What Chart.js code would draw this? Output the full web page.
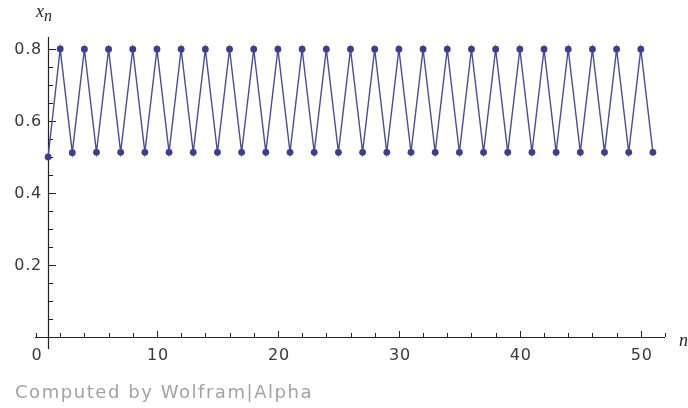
<!DOCTYPE html>
<html>
<head>
<meta charset="utf-8">
<script src="https://cdn.jsdelivr.net/npm/chart.js@4.4.1/dist/chart.umd.min.js"></script>
<style>
  html, body { margin: 0; padding: 0; background: #ffffff; }
  #wrap { position: relative; width: 688px; height: 408px; }
  #credit { position: absolute; left: 15px; top: 381px; font-family: "DejaVu Sans", sans-serif; font-size: 18px; letter-spacing: 1.55px; color: #a3a3a3; white-space: nowrap; }
</style>
</head>
<body>
<div id="wrap">
  <canvas id="c" width="688" height="408"></canvas>
  <div id="credit">Computed by Wolfram|Alpha</div>
</div>
<script>
// ---- data ----
const nValues = [1,2,3,4,5,6,7,8,9,10,11,12,13,14,15,16,17,18,19,20,21,22,23,24,25,26,27,28,29,30,31,32,33,34,35,36,37,38,39,40,41,42,43,44,45,46,47,48,49,50,51];
const xValues = [0.5,0.8,0.512,0.7995,0.5129,0.7995,0.5130,0.7995,0.5130,0.7995,0.5130,0.7995,0.5130,0.7995,0.5130,0.7995,0.5130,0.7995,0.5130,0.7995,0.5130,0.7995,0.5130,0.7995,0.5130,0.7995,0.5130,0.7995,0.5130,0.7995,0.5130,0.7995,0.5130,0.7995,0.5130,0.7995,0.5130,0.7995,0.5130,0.7995,0.5130,0.7995,0.5130,0.7995,0.5130,0.7995,0.5130,0.7995,0.5130,0.7995,0.5130];
const xTickLabels = [0, 10, 20, 30, 40, 50];
const xMinorTicks = [2,4,6,8,12,14,16,18,22,24,26,28,32,34,36,38,42,44,46,48,52];
const yTickLabels = [0.2, 0.4, 0.6, 0.8];
const yMinorTicks = [0.05,0.1,0.15,0.25,0.3,0.35,0.45,0.5,0.55,0.65,0.7,0.75];
const axisCrossN = 1;

const points = nValues.map((n, i) => ({ x: n, y: xValues[i] }));

const axesPlugin = {
  id: 'wolframAxes',
  beforeDatasetsDraw(chart) {
    const ctx = chart.ctx;
    const xs = chart.scales.x, ys = chart.scales.y;
    const x0 = xs.getPixelForValue(axisCrossN);
    const y0 = ys.getPixelForValue(0);
    const xLeft = xs.getPixelForValue(0);
    const xRight = xs.getPixelForValue(52);
    const yTop = ys.getPixelForValue(ys.max);
    ctx.save();
    ctx.strokeStyle = '#222';
    ctx.lineWidth = 1.2;
    ctx.beginPath();
    ctx.moveTo(xLeft - 1, Math.round(y0) + 0.5);
    ctx.lineTo(xRight, Math.round(y0) + 0.5);
    ctx.moveTo(Math.round(x0) + 0.5, yTop);
    ctx.lineTo(Math.round(x0) + 0.5, y0 + 12);
    ctx.stroke();
    ctx.lineWidth = 1;
    ctx.beginPath();
    xTickLabels.forEach(v => {
      const px = Math.round(xs.getPixelForValue(v)) + 0.5;
      const len = v === 0 ? 4 : 6;
      ctx.moveTo(px, y0); ctx.lineTo(px, y0 - len);
    });
    xMinorTicks.forEach(v => {
      const px = Math.round(xs.getPixelForValue(v)) + 0.5;
      ctx.moveTo(px, y0); ctx.lineTo(px, y0 - 4);
    });
    yTickLabels.forEach(v => {
      const py = Math.round(ys.getPixelForValue(v)) + 0.5;
      ctx.moveTo(x0, py); ctx.lineTo(x0 + 8, py);
    });
    yMinorTicks.forEach(v => {
      const py = Math.round(ys.getPixelForValue(v)) + 0.5;
      ctx.moveTo(x0, py); ctx.lineTo(x0 + 5, py);
    });
    ctx.stroke();
    ctx.fillStyle = '#3a3a3a';
    ctx.font = '16px "DejaVu Sans", sans-serif';
    try { ctx.letterSpacing = '0.8px'; } catch (e) {}
    ctx.textBaseline = 'middle';
    ctx.textAlign = 'center';
    xTickLabels.forEach(v => {
      const px = xs.getPixelForValue(v);
      ctx.fillText(String(v), px + 1, y0 + 19);
    });
    ctx.textAlign = 'right';
    yTickLabels.forEach(v => {
      const py = ys.getPixelForValue(v);
      ctx.fillText(v.toFixed(1), x0 - 6, py + 1);
    });
    try { ctx.letterSpacing = '0px'; } catch (e) {}
    ctx.textBaseline = 'alphabetic';
    ctx.textAlign = 'left';
    ctx.fillStyle = '#2a2a2a';
    ctx.font = 'italic 18px "Liberation Serif", serif';
    ctx.fillText('x', 36, 17);
    ctx.font = 'italic 16px "Liberation Serif", serif';
    ctx.fillText('n', 44, 21);
    ctx.font = 'italic 18px "Liberation Serif", serif';
    ctx.fillText('n', 679, 346);
    ctx.restore();
  }
};

new Chart(document.getElementById('c'), {
  type: 'line',
  data: {
    datasets: [{
      data: points,
      borderColor: '#4a4aa6',
      backgroundColor: '#3d3d99',
      borderWidth: 1.4,
      pointRadius: 3.4,
      pointBorderWidth: 0,
      pointBackgroundColor: '#3d3d99',
      tension: 0,
      clip: false
    }]
  },
  options: {
    responsive: false,
    animation: false,
    layout: { padding: { left: 36, right: 23, top: 37, bottom: 71 } },
    plugins: { legend: { display: false }, tooltip: { enabled: false } },
    scales: {
      x: { type: 'linear', min: 0, max: 52, display: false },
      y: { type: 'linear', min: 0, max: 0.8333, display: false }
    }
  },
  plugins: [axesPlugin]
});
</script>
</body>
</html>
